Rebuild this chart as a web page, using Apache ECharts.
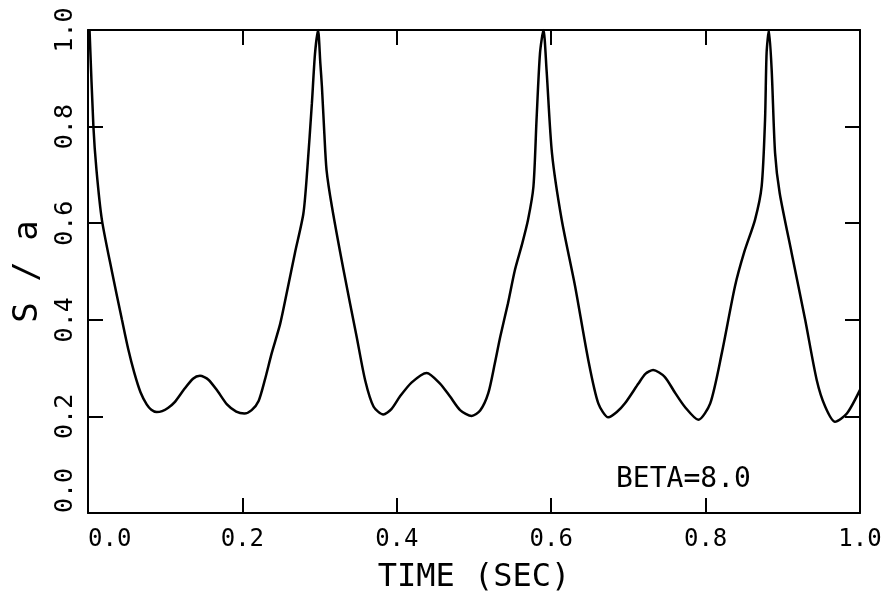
<!DOCTYPE html>
<html>
<head>
<meta charset="utf-8">
<script src="https://cdn.jsdelivr.net/npm/echarts@6/dist/echarts.min.js"></script>
<style>
html,body{margin:0;padding:0;background:#fff;}
#chart{width:882px;height:592px;}
</style>
</head>
<body>
<div id="chart"></div>
<script>
// time (sec)
const timeValues = [
  0.002, 0.007, 0.011, 0.018, 0.031, 0.044, 0.052, 0.060, 0.068, 0.076, 0.082, 0.089, 0.096, 0.104,
  0.112, 0.124, 0.136, 0.145, 0.156, 0.168, 0.180, 0.192, 0.2025, 0.212, 0.221, 0.229, 0.238, 0.249,
  0.258, 0.268, 0.279, 0.284, 0.290, 0.294, 0.298, 0.301, 0.303, 0.306, 0.309, 0.316, 0.331, 0.348,
  0.359, 0.370, 0.3825, 0.393, 0.404, 0.419, 0.4387, 0.456, 0.469, 0.482, 0.497, 0.508, 0.5185,
  0.527, 0.534, 0.544, 0.553, 0.562, 0.570, 0.577, 0.581, 0.5855, 0.590, 0.594, 0.601, 0.6136,
  0.631, 0.648, 0.661, 0.674, 0.685, 0.6956, 0.713, 0.722, 0.732, 0.747, 0.760, 0.773, 0.7906,
  0.806, 0.821, 0.838, 0.850, 0.864, 0.8726, 0.877, 0.879, 0.882, 0.8856, 0.890, 0.896, 0.9115,
  0.929, 0.944, 0.955, 0.9676, 0.983, 1.0
];
// S / a
const sValues = [
  1.0, 0.80, 0.71, 0.607, 0.50, 0.40, 0.34, 0.29, 0.25, 0.225, 0.214, 0.209, 0.211, 0.218,
  0.229, 0.255, 0.278, 0.284, 0.276, 0.252, 0.225, 0.210, 0.206, 0.213, 0.232, 0.275, 0.331, 0.392,
  0.46, 0.538, 0.620, 0.710, 0.848, 0.95, 1.0, 0.93, 0.883, 0.79, 0.710, 0.634, 0.503, 0.365,
  0.275, 0.220, 0.204, 0.215, 0.241, 0.270, 0.290, 0.268, 0.241, 0.213, 0.201, 0.212, 0.248,
  0.31, 0.365, 0.434, 0.503, 0.555, 0.607, 0.676, 0.814, 0.952, 1.0, 0.917, 0.745, 0.607,
  0.469, 0.317, 0.227, 0.198, 0.209, 0.227, 0.268, 0.288, 0.296, 0.282, 0.250, 0.220, 0.193,
  0.227, 0.331, 0.469, 0.540, 0.607, 0.676, 0.814, 0.952, 1.0, 0.917, 0.745, 0.662, 0.538,
  0.40, 0.275, 0.220, 0.189, 0.206, 0.255
];
const xTicks = [0.0, 0.2, 0.4, 0.6, 0.8, 1.0];
const yTicks = [0.0, 0.2, 0.4, 0.6, 0.8, 1.0];
const xTitle = 'TIME (SEC)';
const yTitle = 'S / a';
const annotation = 'BETA=8.0';

const FONT = 'DejaVu Sans Mono';
const points = timeValues.map((t, i) => [t, sValues[i]]);
const fmt = v => v.toFixed(1);

const lineStyle = { color: '#000', width: 2 };
const tickStyle = { show: true, inside: true, length: 15, lineStyle: { color: '#000', width: 2 } };
const axisLine = { show: true, onZero: false, lineStyle };

const chart = echarts.init(document.getElementById('chart'), null, { renderer: 'canvas' });
chart.setOption({
  animation: false,
  backgroundColor: '#fff',
  grid: { left: 88, right: 22, top: 30, bottom: 79, containLabel: false, outerBoundsMode: 'none' },
  xAxis: [
    {
      type: 'value', position: 'bottom', min: xTicks[0], max: xTicks[xTicks.length - 1], interval: 0.2,
      axisLine, axisTick: tickStyle, splitLine: { show: false },
      axisLabel: {
        show: true, formatter: fmt, color: '#000', fontFamily: FONT, fontSize: 24, margin: 15,
        alignMinLabel: 'left', alignMaxLabel: 'center'
      },
      name: xTitle, nameLocation: 'middle', nameGap: 49,
      nameTextStyle: { color: '#000', fontFamily: FONT, fontSize: 32 }
    },
    {
      type: 'value', position: 'top', min: xTicks[0], max: xTicks[xTicks.length - 1], interval: 0.2,
      axisLine, axisTick: tickStyle, splitLine: { show: false },
      axisLabel: { show: false }
    }
  ],
  yAxis: [
    {
      type: 'value', position: 'left', min: yTicks[0], max: yTicks[yTicks.length - 1], interval: 0.2,
      axisLine, axisTick: tickStyle, splitLine: { show: false },
      axisLabel: {
        show: true, formatter: fmt, color: '#000', fontFamily: FONT, fontSize: 25, margin: 10, rotate: 90,
        alignMinLabel: 'left', alignMaxLabel: 'center'
      },
      name: yTitle, nameLocation: 'middle', nameGap: 42, nameRotate: 90,
      nameTextStyle: { color: '#000', fontFamily: FONT, fontSize: 34 }
    },
    {
      type: 'value', position: 'right', min: yTicks[0], max: yTicks[yTicks.length - 1], interval: 0.2,
      axisLine, axisTick: tickStyle, splitLine: { show: false },
      axisLabel: { show: false }
    }
  ],
  graphic: [
    {
      type: 'text', left: 616, top: 466,
      style: { text: annotation, fill: '#000', font: '28px "DejaVu Sans Mono"' }
    }
  ],
  series: [
    {
      type: 'line', xAxisIndex: 0, yAxisIndex: 0, data: points, showSymbol: false, symbol: 'none',
      smooth: 0.25, clip: true,
      lineStyle: { color: '#000', width: 2.5 }
    }
  ]
});
</script>
</body>
</html>
